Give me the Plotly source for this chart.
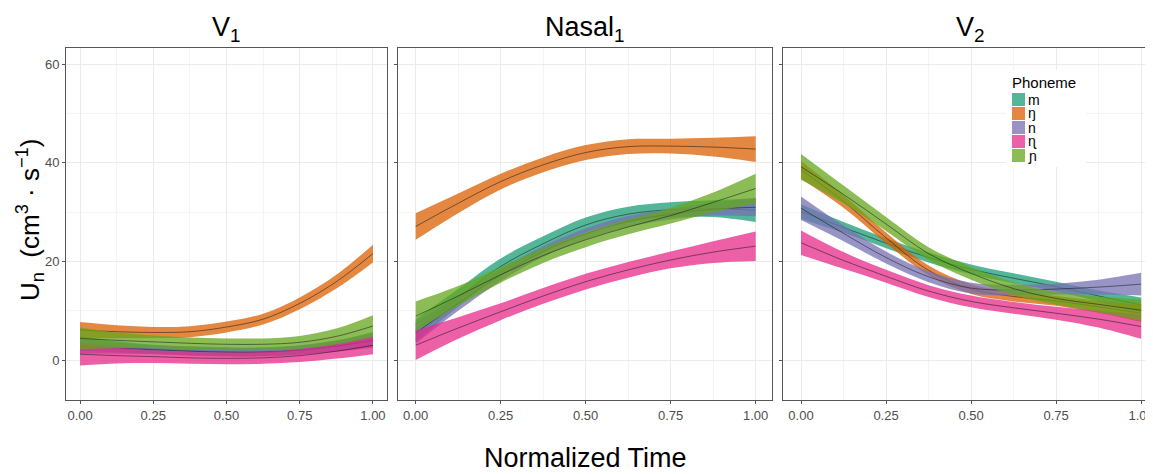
import plotly.graph_objects as go

# ---------------- data ----------------
TIME = [0.0, 0.125, 0.25, 0.375, 0.5, 0.625, 0.75, 0.875, 1.0]
PHONEMES = ["m", "ŋ", "n", "ɳ", "ɲ"]
PANELS = ["V<sub>1</sub>", "Nasal<sub>1</sub>", "V<sub>2</sub>"]
COLORS = ["#1B9E77", "#D95F02", "#7570B3", "#E7298A", "#66A61E"]
X_TICKS = [0, 0.25, 0.5, 0.75, 1.0]
X_TICK_LABELS = ["0.00", "0.25", "0.50", "0.75", "1.00"]
Y_TICKS = [0, 20, 40, 60]

# V1 panel: fitted means and ribbon half-widths
V1_mean = {
    "m": [3.4, 2.7, 2.2, 1.9, 1.7, 1.7, 2.1, 2.9, 4.2],
    "ŋ": [6.1, 5.75, 5.6, 5.75, 6.7, 8.3, 11.5, 15.9, 21.6],
    "n": [2.8, 2.4, 2.1, 1.8, 1.6, 1.6, 2.0, 2.8, 4.0],
    "ɳ": [1.2, 0.9, 0.7, 0.45, 0.35, 0.45, 0.9, 1.8, 3.0],
    "ɲ": [4.4, 4.0, 3.7, 3.4, 3.2, 3.2, 3.6, 4.8, 6.9],
}
V1_hw = {
    "m": [1.5, 1.1, 0.9, 0.9, 0.9, 0.9, 0.9, 1.1, 1.5],
    "ŋ": [1.6, 1.3, 1.1, 1.1, 1.1, 1.1, 1.2, 1.4, 1.8],
    "n": [1.5, 1.1, 0.9, 0.9, 0.9, 0.9, 0.9, 1.1, 1.5],
    "ɳ": [2.3, 1.6, 1.3, 1.2, 1.2, 1.2, 1.3, 1.5, 1.8],
    "ɲ": [2.2, 1.6, 1.3, 1.2, 1.2, 1.2, 1.3, 1.6, 2.2],
}
# Nasal1 panel
N1_mean = {
    "m": [6.0, 12.6, 19.0, 23.6, 27.4, 29.6, 30.5, 30.7, 30.4],
    "ŋ": [27.1, 31.8, 36.2, 39.6, 42.1, 43.3, 43.4, 43.2, 42.8],
    "n": [5.5, 11.5, 17.2, 22.0, 25.6, 28.1, 29.6, 30.6, 31.0],
    "ɳ": [3.0, 6.5, 9.8, 13.0, 15.9, 18.3, 20.3, 21.9, 23.1],
    "ɲ": [8.9, 13.0, 17.3, 21.2, 24.4, 27.0, 29.3, 32.0, 34.8],
}
N1_hw = {
    "m": [2.3, 1.8, 1.6, 1.5, 1.5, 1.5, 1.5, 1.7, 2.4],
    "ŋ": [2.7, 2.0, 1.6, 1.5, 1.5, 1.5, 1.5, 1.9, 2.6],
    "n": [2.2, 1.5, 1.2, 1.1, 1.1, 1.1, 1.1, 1.3, 1.8],
    "ɳ": [3.0, 2.2, 1.7, 1.6, 1.6, 1.6, 1.7, 2.2, 3.0],
    "ɲ": [3.0, 2.0, 1.6, 1.5, 1.5, 1.5, 1.6, 2.0, 3.0],
}
# V2 panel
V2_mean = {
    "m": [30.1, 26.9, 23.7, 20.8, 18.4, 16.6, 14.9, 13.0, 11.2],
    "ŋ": [38.6, 32.2, 24.8, 18.2, 14.4, 12.9, 12.0, 10.8, 9.5],
    "n": [30.8, 25.7, 20.8, 16.9, 14.6, 14.2, 14.4, 14.8, 15.4],
    "ɳ": [23.8, 20.2, 17.0, 14.0, 11.9, 10.6, 9.5, 8.3, 6.8],
    "ɲ": [39.2, 33.6, 27.6, 21.6, 17.6, 14.5, 12.5, 11.3, 10.1],
}
V2_hw = {
    "m": [1.5, 1.1, 1.0, 1.0, 1.0, 1.0, 1.0, 1.1, 1.5],
    "ŋ": [1.8, 1.3, 1.1, 1.0, 1.0, 1.0, 1.0, 1.2, 1.8],
    "n": [2.4, 1.6, 1.2, 1.1, 1.1, 1.1, 1.1, 1.5, 2.3],
    "ɳ": [2.5, 1.7, 1.3, 1.2, 1.2, 1.2, 1.3, 1.7, 2.5],
    "ɲ": [2.6, 1.8, 1.4, 1.3, 1.3, 1.3, 1.3, 1.6, 2.2],
}
PANEL_DATA = [(V1_mean, V1_hw), (N1_mean, N1_hw), (V2_mean, V2_hw)]

# ---------------- layout helpers ----------------
# the page body has an 8px margin, so the figure is offset by 8px
OFF = 8
W, H = 1153 - OFF, 474 - OFF
def px(x):
    return (x - OFF) / W
def py(y):
    return 1 - (y - OFF) / H

def rgba(hexc, a):
    h = hexc.lstrip("#")
    r, g, b = int(h[0:2], 16), int(h[2:4], 16), int(h[4:6], 16)
    return f"rgba({r},{g},{b},{a})"

FONT = "Liberation Sans, Arial, DejaVu Sans, sans-serif"
ALPHA = 0.75

fig = go.Figure()

x_domains = [[px(66), px(387)], [px(398), px(772)], [px(783), 1.0]]
x_ranges = [[-0.048, 1.048], [-0.052, 1.048], [-0.053, 1.035]]
y_domain = [py(400), py(48)]
y_range = [-8.1, 63.3]

for pi, (means, hws) in enumerate(PANEL_DATA):
    xa = "x" if pi == 0 else f"x{pi+1}"
    ya = "y" if pi == 0 else f"y{pi+1}"
    for ph, col in zip(PHONEMES, COLORS):
        m = means[ph]
        hw = hws[ph]
        lo = [a - b for a, b in zip(m, hw)]
        hi = [a + b for a, b in zip(m, hw)]
        fig.add_trace(go.Scatter(x=TIME, y=lo, mode="lines", line=dict(width=0, shape="spline", color=col),
                                 xaxis=xa, yaxis=ya, showlegend=False, hoverinfo="skip"))
        fig.add_trace(go.Scatter(x=TIME, y=hi, mode="lines", line=dict(width=0, shape="spline", color=col),
                                 fill="tonexty", fillcolor=rgba(col, ALPHA),
                                 xaxis=xa, yaxis=ya, showlegend=False, hoverinfo="skip"))
        fig.add_trace(go.Scatter(x=TIME, y=m, mode="lines", name=ph,
                                 line=dict(width=0.7, shape="spline", color="rgba(20,20,20,0.75)"),
                                 xaxis=xa, yaxis=ya, showlegend=False))

axis_common = dict(
    showgrid=True, gridcolor="#EBEBEB", gridwidth=1, automargin=False,
    zeroline=False, showline=True, linecolor="#555555", linewidth=1, mirror=True,
    ticks="outside", ticklen=3, tickcolor="#555555", ticklabeloverflow="allow",
    tickfont=dict(family=FONT, size=13, color="#4D4D4D"),
)

layout = dict(
    width=W, height=H,
    margin=dict(l=0, r=0, t=0, b=0, autoexpand=False),
    plot_bgcolor="white", paper_bgcolor="white",
    showlegend=False,
)
for i in range(3):
    sx = "" if i == 0 else str(i + 1)
    layout[f"xaxis{sx}"] = dict(axis_common, domain=x_domains[i], range=x_ranges[i],
                                tickmode="array", tickvals=X_TICKS, ticktext=X_TICK_LABELS,
                                anchor=f"y{sx}",
                                minor=dict(tickvals=[0.125, 0.375, 0.625, 0.875], showgrid=True,
                                           gridcolor="#F4F4F4", ticks=""))
    layout[f"yaxis{sx}"] = dict(axis_common, domain=y_domain, range=y_range,
                                tickmode="array", tickvals=Y_TICKS, anchor=f"x{sx}",
                                showticklabels=(i == 0),
                                minor=dict(tickvals=[10, 30, 50], showgrid=True,
                                           gridcolor="#F4F4F4", ticks=""))
fig.update_layout(**layout)

annotations = []
centers = [226.5, 585, 970]
for title, cx in zip(PANELS, centers):
    annotations.append(dict(text=title, x=px(cx), y=py(29), xref="paper", yref="paper",
                            showarrow=False, xanchor="center", yanchor="middle",
                            font=dict(family=FONT, size=27, color="black")))
annotations.append(dict(text="Normalized Time", x=px(585), y=py(458), xref="paper", yref="paper",
                        showarrow=False, xanchor="center", yanchor="middle",
                        font=dict(family=FONT, size=27, color="black")))
annotations.append(dict(text="U<sub>n</sub>\u00a0\u00a0(cm<sup>3</sup>\u00a0·\u00a0s<sup>−1</sup>)", x=px(30), y=py(220),
                        xref="paper", yref="paper", textangle=-90,
                        showarrow=False, xanchor="center", yanchor="middle",
                        font=dict(family=FONT, size=26, color="black")))

# legend (manual, ggplot-like)
shapes = [dict(type="rect", xref="paper", yref="paper", x0=px(1006), x1=px(1086), y0=py(167), y1=py(70),
               fillcolor="white", line=dict(width=0), layer="above")]
annotations.append(dict(text="Phoneme", x=px(1010), y=py(82), xref="paper", yref="paper",
                        showarrow=False, xanchor="left", yanchor="middle",
                        font=dict(family=FONT, size=15, color="black")))
for k, (ph, col) in enumerate(zip(PHONEMES, COLORS)):
    cy = 99.5 + k * 14
    shapes.append(dict(type="rect", xref="paper", yref="paper", x0=px(1012), x1=px(1025),
                       y0=py(cy + 6.5), y1=py(cy - 6.5), fillcolor=rgba(col, ALPHA),
                       line=dict(width=0), layer="above"))
    annotations.append(dict(text=ph, x=px(1026), y=py(cy), xref="paper", yref="paper",
                            showarrow=False, xanchor="left", yanchor="middle",
                            font=dict(family=FONT, size=14, color="black")))

fig.update_layout(annotations=annotations, shapes=shapes)
fig.write_html("out.html")
